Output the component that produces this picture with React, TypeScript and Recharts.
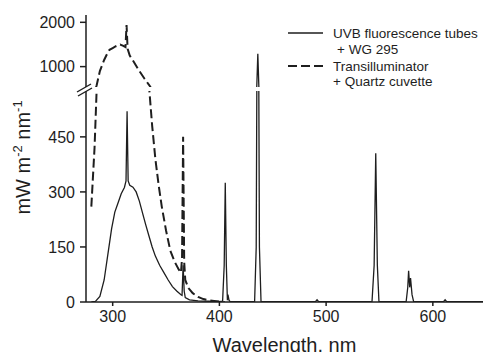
import React from "react";
import { LineChart, Line, XAxis, YAxis, Legend } from "recharts";

// UVB fluorescence tubes + WG 295 (solid)
const solidNm = [
  280, 284, 288, 292, 296, 299, 302, 305, 308, 311, 312.5, 313.5, 314.5, 316, 319, 322, 325, 328,
  331, 334, 337, 340, 344, 348, 352, 356, 360, 364, 365, 366, 367, 368, 372, 380, 390, 400, 403,
  404.5, 405.5, 406.5, 407.5, 408, 409, 410, 433, 434.5, 436, 437.5, 439, 490, 491.5, 493, 543,
  545, 546.5, 548, 549.5, 575, 576.5, 577.3, 578.3, 579.1, 580.5, 582, 610, 611.5, 613, 647,
];
const solidVal = [
  0, 2, 15, 60, 140, 200, 245, 270, 295, 312, 330, 520, 330, 318, 313, 300, 275, 242,
  210, 180, 150, 125, 100, 80, 60, 42, 30, 20, 18, 100, 30, 12, 6, 3, 2, 1, 2,
  100, 325, 100, 5, 20, 5, 1, 1, 150, 1290, 150, 1, 1, 6, 1, 1,
  100, 405, 100, 1, 1, 40, 85, 40, 65, 20, 1, 1, 6, 1, 1,
];

// Transilluminator + Quartz cuvette (dashed)
const dashNm = [
  280, 283, 285, 288, 292, 295, 297, 300, 303, 307, 310, 312, 313, 314, 316, 320, 325, 330,
  334, 337, 340, 343, 346, 350, 354, 358, 362, 364, 365, 366, 367, 368, 371, 375, 380, 385,
  390, 395, 400, 405,
];
const dashVal = [
  260, 420, 580, 900, 1150, 1300, 1380, 1420, 1460, 1500, 1470, 1440, 1940, 1400, 1250, 1100, 900, 720,
  590, 480, 390, 320, 260, 195, 140, 110, 88, 80, 120, 450, 110, 60, 38, 24, 14, 8,
  5, 3, 1, 0,
];

const xTicks = [300, 400, 500, 600];
const upperTicks = [1000, 2000];
const lowerTicks = [0, 150, 300, 450];

const solid = solidNm.map((w, i) => ({ w, v: solidVal[i] }));
const dashed = dashNm.map((w, i) => ({ w, v: dashVal[i] }));

const FONT = '"Liberation Sans", Arial, sans-serif';
const INK = "#1e1e1e";
const xDomain: [number, number] = [275, 647];
const tickStyle = { fontSize: 16, fill: INK, fontFamily: FONT };

function LegendBox() {
  return (
    <svg width={200} height={68} style={{ fontFamily: FONT, fontSize: 13.5 }}>
      <line x1={2} y1={9} x2={37} y2={9} stroke={INK} strokeWidth={1.3} />
      <text x={47} y={14} fill={INK}>UVB fluorescence tubes</text>
      <text x={51} y={30} fill={INK}>+ WG 295</text>
      <line x1={2} y1={42} x2={37} y2={42} stroke={INK} strokeWidth={2} strokeDasharray="9 4" />
      <text x={47} y={47} fill={INK}>Transilluminator</text>
      <text x={47} y={62} fill={INK}>+ Quartz cuvette</text>
    </svg>
  );
}

export default function App() {
  return (
    <div style={{ position: "absolute", left: 0, top: 0, width: 483, height: 352, background: "#fff" }}>
      {/* upper part of the broken axis */}
      <div style={{ position: "absolute", left: 0, top: 0 }}>
        <LineChart width={483} height={87} margin={{ top: 15, right: 0, bottom: 0, left: 0 }}>
          <XAxis
            type="number"
            dataKey="w"
            orientation="top"
            domain={xDomain}
            allowDataOverflow
            height={0}
            tick={false}
            tickLine={false}
            axisLine={{ stroke: "#555", strokeWidth: 2 }}
          />
          <YAxis
            type="number"
            domain={[540, 2165]}
            ticks={upperTicks}
            allowDataOverflow
            width={86}
            tickSize={6}
            tickMargin={5}
            tick={tickStyle}
            axisLine={{ stroke: INK, strokeWidth: 1.5 }}
            tickLine={{ stroke: INK, strokeWidth: 1.5 }}
          />
          <Legend
            layout="vertical"
            align="center"
            verticalAlign="middle"
            wrapperStyle={{ left: 286, top: 24, width: 200, height: 68 }}
            content={() => <LegendBox />}
          />
          <Line data={solid} dataKey="v" type="linear" stroke={INK} strokeWidth={1.3} dot={false} activeDot={false} isAnimationActive={false} />
          <Line data={dashed} dataKey="v" type="linear" stroke={INK} strokeWidth={2} strokeDasharray="9 4" dot={false} activeDot={false} isAnimationActive={false} />
        </LineChart>
      </div>
      {/* lower part */}
      <div style={{ position: "absolute", left: 0, top: 91 }}>
        <LineChart width={483} height={261} margin={{ top: 0, right: 0, bottom: 0, left: 0 }}>
          <XAxis
            type="number"
            dataKey="w"
            domain={xDomain}
            ticks={xTicks}
            allowDataOverflow
            height={50}
            tickSize={4}
            tickMargin={5}
            tick={tickStyle}
            axisLine={{ stroke: INK, strokeWidth: 1.5 }}
            tickLine={{ stroke: INK, strokeWidth: 1.5 }}
            label={{ value: "Wavelength, nm", position: "insideBottom", offset: 0, fontSize: 20, fill: INK, fontFamily: FONT }}
          />
          <YAxis
            type="number"
            domain={[0, 575]}
            ticks={lowerTicks}
            allowDataOverflow
            width={86}
            tickSize={6}
            tickMargin={5}
            tick={tickStyle}
            axisLine={{ stroke: INK, strokeWidth: 1.5 }}
            tickLine={{ stroke: INK, strokeWidth: 1.5 }}
          />
          <Line data={solid} dataKey="v" type="linear" stroke={INK} strokeWidth={1.3} dot={false} activeDot={false} isAnimationActive={false} />
          <Line data={dashed} dataKey="v" type="linear" stroke={INK} strokeWidth={2} strokeDasharray="9 4" dot={false} activeDot={false} isAnimationActive={false} />
        </LineChart>
      </div>
      {/* axis break marks and y title */}
      <svg width={483} height={352} style={{ position: "absolute", left: 0, top: 0, pointerEvents: "none" }}>
        <line x1={77} y1={92} x2={91} y2={84} stroke={INK} strokeWidth={1.4} />
        <line x1={78} y1={96} x2={92} y2={88} stroke={INK} strokeWidth={1.4} />
        <text
          transform="translate(30,157.5) rotate(-90)"
          textAnchor="middle"
          fontSize={20}
          fill={INK}
          fontFamily={FONT}
        >
          mW m<tspan dy={-8} fontSize={13}>-2</tspan>
          <tspan dy={8}> nm</tspan>
          <tspan dy={-8} fontSize={13}>-1</tspan>
        </text>
      </svg>
    </div>
  );
}
